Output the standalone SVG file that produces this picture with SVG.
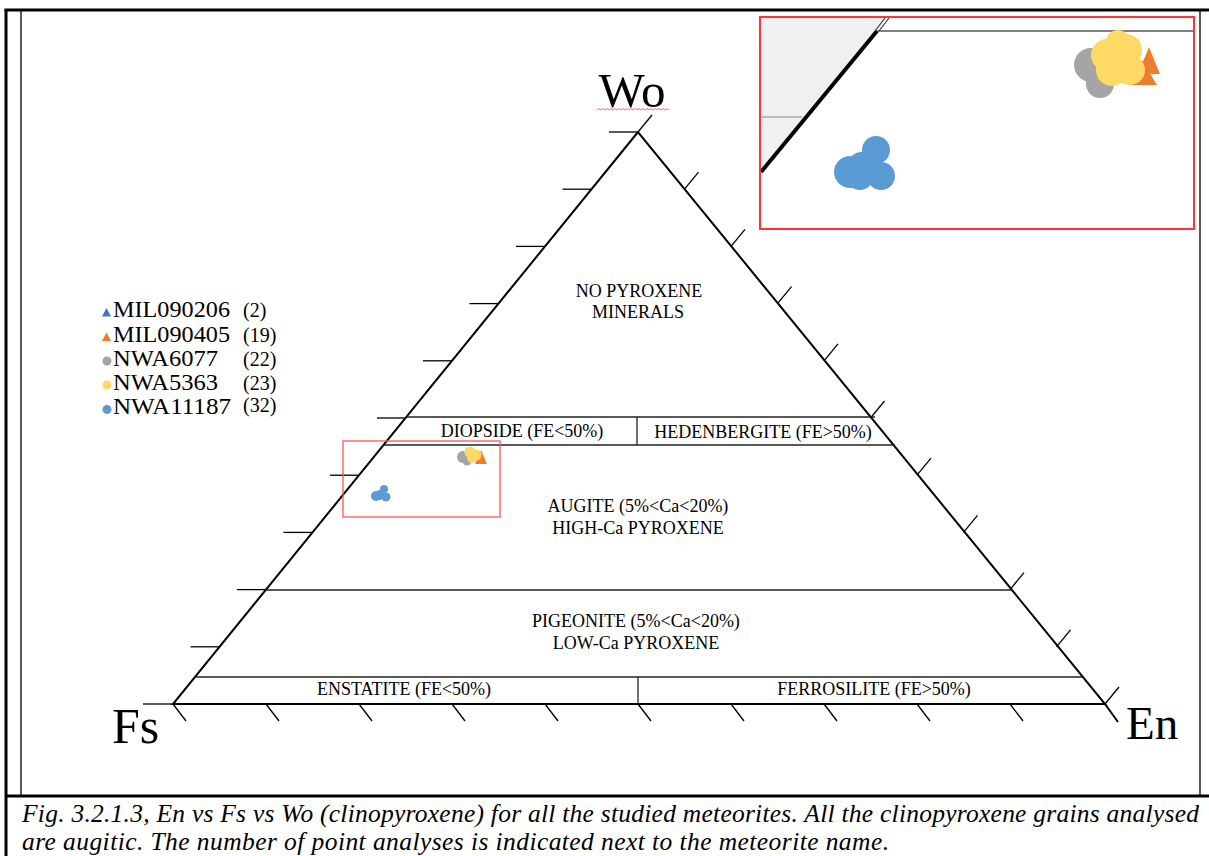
<svg xmlns="http://www.w3.org/2000/svg" width="1209" height="856" viewBox="0 0 1209 856">
<style>
.ser{font-family:"Liberation Serif","Times New Roman",serif;fill:#000}
.lab{font-size:18px;text-anchor:middle}
.leg{font-size:23px}
.cnt{font-size:20px}
.tri{stroke:#000;stroke-width:2;fill:none}
.sep{stroke:#222;stroke-width:1.3;fill:none}
.tick{stroke:#000;stroke-width:1.3;fill:none}
.frm{stroke:#000;fill:none}
.blue{fill:#5B9BD5}
.grey{fill:#A5A5A5}
.yel{fill:#FFD966}
.org{fill:#ED7D31}
.tblue{fill:#4472C4}
</style>
<rect width="1209" height="856" fill="#fff"/>
<g id="frame">
<line class="frm" x1="4.5" y1="10" x2="1209" y2="10" stroke-width="3"/>
<line class="frm" x1="6" y1="9" x2="6" y2="856" stroke-width="3"/>
<line class="frm" x1="21" y1="10" x2="21" y2="796" stroke-width="1.3"/>
<line class="frm" x1="1200" y1="10" x2="1200" y2="796" stroke-width="1.3"/>
<line class="frm" x1="6" y1="796" x2="1209" y2="796" stroke-width="3"/>
</g>
<g id="triangle">
<polygon class="tri" points="638,132 173,704 1105,704"/>
<line class="tri" x1="1105" y1="704" x2="1118" y2="722"/>
</g>
<g id="boundaries">
<line class="sep" x1="406" y1="417" x2="875" y2="417"/>
<line class="sep" x1="383" y1="445" x2="895" y2="445"/>
<line class="sep" x1="637" y1="417" x2="637" y2="445"/>
<line class="sep" x1="266" y1="590" x2="1012" y2="590"/>
<line class="sep" x1="195" y1="677" x2="1083" y2="677"/>
<line class="sep" x1="638" y1="677" x2="638" y2="704"/>
</g>
<g id="ticks-left" class="tick">
<line x1="609" y1="132" x2="638" y2="132"/>
<line x1="562.5" y1="189.2" x2="591.5" y2="189.2"/>
<line x1="516" y1="246.4" x2="545" y2="246.4"/>
<line x1="469.5" y1="303.6" x2="498.5" y2="303.6"/>
<line x1="423" y1="360.8" x2="452" y2="360.8"/>
<line x1="377" y1="418" x2="406" y2="418"/>
<line x1="330" y1="475.2" x2="359" y2="475.2"/>
<line x1="283.5" y1="532.4" x2="312.5" y2="532.4"/>
<line x1="237" y1="589.6" x2="266" y2="589.6"/>
<line x1="190.5" y1="646.8" x2="219.5" y2="646.8"/>
<line x1="143" y1="704" x2="173" y2="704"/>
</g>
<g id="ticks-right" class="tick">
<line x1="638" y1="132" x2="652" y2="115"/>
<line x1="684.5" y1="189.2" x2="698.5" y2="172.2"/>
<line x1="731" y1="246.4" x2="745" y2="229.4"/>
<line x1="777.5" y1="303.6" x2="791.5" y2="286.6"/>
<line x1="824" y1="360.8" x2="838" y2="343.8"/>
<line x1="870.5" y1="418" x2="884.5" y2="401"/>
<line x1="917" y1="475.2" x2="931" y2="458.2"/>
<line x1="963.5" y1="532.4" x2="977.5" y2="515.4"/>
<line x1="1010" y1="589.6" x2="1024" y2="572.6"/>
<line x1="1056.5" y1="646.8" x2="1070.5" y2="629.8"/>
<line x1="1105" y1="704" x2="1119" y2="687"/>
</g>
<g id="ticks-bottom" class="tick">
<line x1="173" y1="704" x2="186" y2="721"/>
<line x1="266" y1="704" x2="279" y2="721"/>
<line x1="359" y1="704" x2="372" y2="721"/>
<line x1="452" y1="704" x2="465" y2="721"/>
<line x1="545" y1="704" x2="558" y2="721"/>
<line x1="638" y1="704" x2="651" y2="721"/>
<line x1="731" y1="704" x2="744" y2="721"/>
<line x1="824" y1="704" x2="837" y2="721"/>
<line x1="917" y1="704" x2="930" y2="721"/>
<line x1="1010" y1="704" x2="1023" y2="721"/>
</g>
<g id="vertex-labels" class="ser">
<text x="632" y="107" font-size="49" text-anchor="middle">Wo</text>
<path d="M597,110 l2,-1.5 l2,1.5 l2,-1.5 l2,1.5 l2,-1.5 l2,1.5 l2,-1.5 l2,1.5 l2,-1.5 l2,1.5 l2,-1.5 l2,1.5 l2,-1.5 l2,1.5 l2,-1.5 l2,1.5 l2,-1.5 l2,1.5 l2,-1.5 l2,1.5 l2,-1.5 l2,1.5 l2,-1.5 l2,1.5 l2,-1.5 l2,1.5 l2,-1.5 l2,1.5 l2,-1.5 l2,1.5 l2,-1.5 l2,1.5 l2,-1.5 l2,1.5 l2,-1.5 l2,1.5" fill="none" stroke="#f55" stroke-width="0.9"/>
<text x="112" y="743" font-size="50">Fs</text>
<text x="1126" y="739" font-size="47">En</text>
</g>
<g id="region-labels" class="ser lab">
<text x="639" y="297">NO PYROXENE</text>
<text x="638" y="318">MINERALS</text>
<text x="522" y="437">DIOPSIDE (FE&lt;50%)</text>
<text x="763" y="438">HEDENBERGITE (FE&gt;50%)</text>
<text x="638" y="512">AUGITE (5%&lt;Ca&lt;20%)</text>
<text x="638" y="534">HIGH-Ca PYROXENE</text>
<text x="636" y="627">PIGEONITE (5%&lt;Ca&lt;20%)</text>
<text x="636" y="649">LOW-Ca PYROXENE</text>
<text x="404" y="695">ENSTATITE (FE&lt;50%)</text>
<text x="874" y="695">FERROSILITE (FE&gt;50%)</text>
</g>
<g id="legend">
<polygon class="tblue" points="106.5,308 111,316.5 102,316.5"/>
<polygon class="org" points="106.5,332.5 111,341 102,341"/>
<circle class="grey" cx="107" cy="361" r="4.5"/>
<circle class="yel" cx="107" cy="385" r="4.5"/>
<circle class="blue" cx="107" cy="409.5" r="4.5"/>
<g class="ser leg">
<text x="113" y="317" textLength="117" lengthAdjust="spacingAndGlyphs">MIL090206</text>
<text x="113" y="341.5" textLength="117" lengthAdjust="spacingAndGlyphs">MIL090405</text>
<text x="113" y="366" textLength="105" lengthAdjust="spacingAndGlyphs">NWA6077</text>
<text x="113" y="390" textLength="105" lengthAdjust="spacingAndGlyphs">NWA5363</text>
<text x="113" y="414" textLength="118" lengthAdjust="spacingAndGlyphs">NWA11187</text>
</g>
<g class="ser cnt">
<text x="243" y="317">(2)</text>
<text x="243" y="341.5">(19)</text>
<text x="243" y="365.5">(22)</text>
<text x="243" y="389.5">(23)</text>
<text x="243" y="412">(32)</text>
</g>
</g>
<g id="data-points">
<circle class="grey" cx="463" cy="457" r="6"/>
<circle class="grey" cx="467" cy="461" r="4.5"/>
<polygon class="org" points="481,450 487,464 475,464"/>
<circle class="yel" cx="470" cy="452" r="5.5"/>
<circle class="yel" cx="476" cy="455" r="5.5"/>
<circle class="yel" cx="472" cy="458" r="5"/>
<circle class="blue" cx="376" cy="496" r="5"/>
<circle class="blue" cx="380" cy="495" r="5"/>
<circle class="blue" cx="384" cy="489" r="4"/>
<circle class="blue" cx="386" cy="497" r="4.5"/>
</g>
<g id="zoom-box">
<rect x="343" y="441" width="157" height="76" fill="none" stroke="#f55" stroke-width="1.3"/>
</g>
<g id="inset">
<rect x="760" y="17" width="434" height="212" fill="#fff"/>
<polygon points="761,18 886,18 877,31 761,172" fill="#f0f0f0"/>
<line x1="761" y1="117" x2="802" y2="117" stroke="#888" stroke-width="1.2"/>
<line x1="877" y1="31" x2="1193" y2="31" stroke="#555" stroke-width="1.5"/>
<line x1="761" y1="172" x2="877" y2="31" stroke="#000" stroke-width="4"/>
<line x1="875" y1="31" x2="885" y2="18" stroke="#333" stroke-width="1.2"/>
<line x1="879" y1="31" x2="889" y2="18" stroke="#333" stroke-width="1.2"/>
<circle class="grey" cx="1091" cy="65" r="17"/>
<circle class="grey" cx="1100" cy="84" r="14"/>
<polygon class="org" points="1149,47 1160,74 1138,74"/>
<polygon class="org" points="1142,60 1157,85 1128,85"/>
<circle class="yel" cx="1107" cy="55" r="16"/>
<circle class="yel" cx="1126" cy="50" r="16"/>
<circle class="yel" cx="1112" cy="70" r="16"/>
<circle class="yel" cx="1130" cy="70" r="15"/>
<circle class="yel" cx="1118" cy="42" r="12"/>
<circle class="blue" cx="850" cy="172" r="16"/>
<circle class="blue" cx="862" cy="167" r="15"/>
<circle class="blue" cx="876" cy="150" r="14"/>
<circle class="blue" cx="881" cy="176" r="14"/>
<circle class="blue" cx="860" cy="177" r="13"/>
<rect x="760" y="17" width="434" height="212" fill="none" stroke="#f33" stroke-width="2"/>
</g>
<g id="caption" class="ser" font-style="italic" font-size="25.5">
<text x="22" y="822" textLength="1177" lengthAdjust="spacing">Fig. 3.2.1.3, En vs Fs vs Wo (clinopyroxene) for all the studied meteorites. All the clinopyroxene grains analysed</text>
<text x="22" y="850" textLength="867" lengthAdjust="spacing">are augitic. The number of point analyses is indicated next to the meteorite name.</text>
</g>
</svg>
